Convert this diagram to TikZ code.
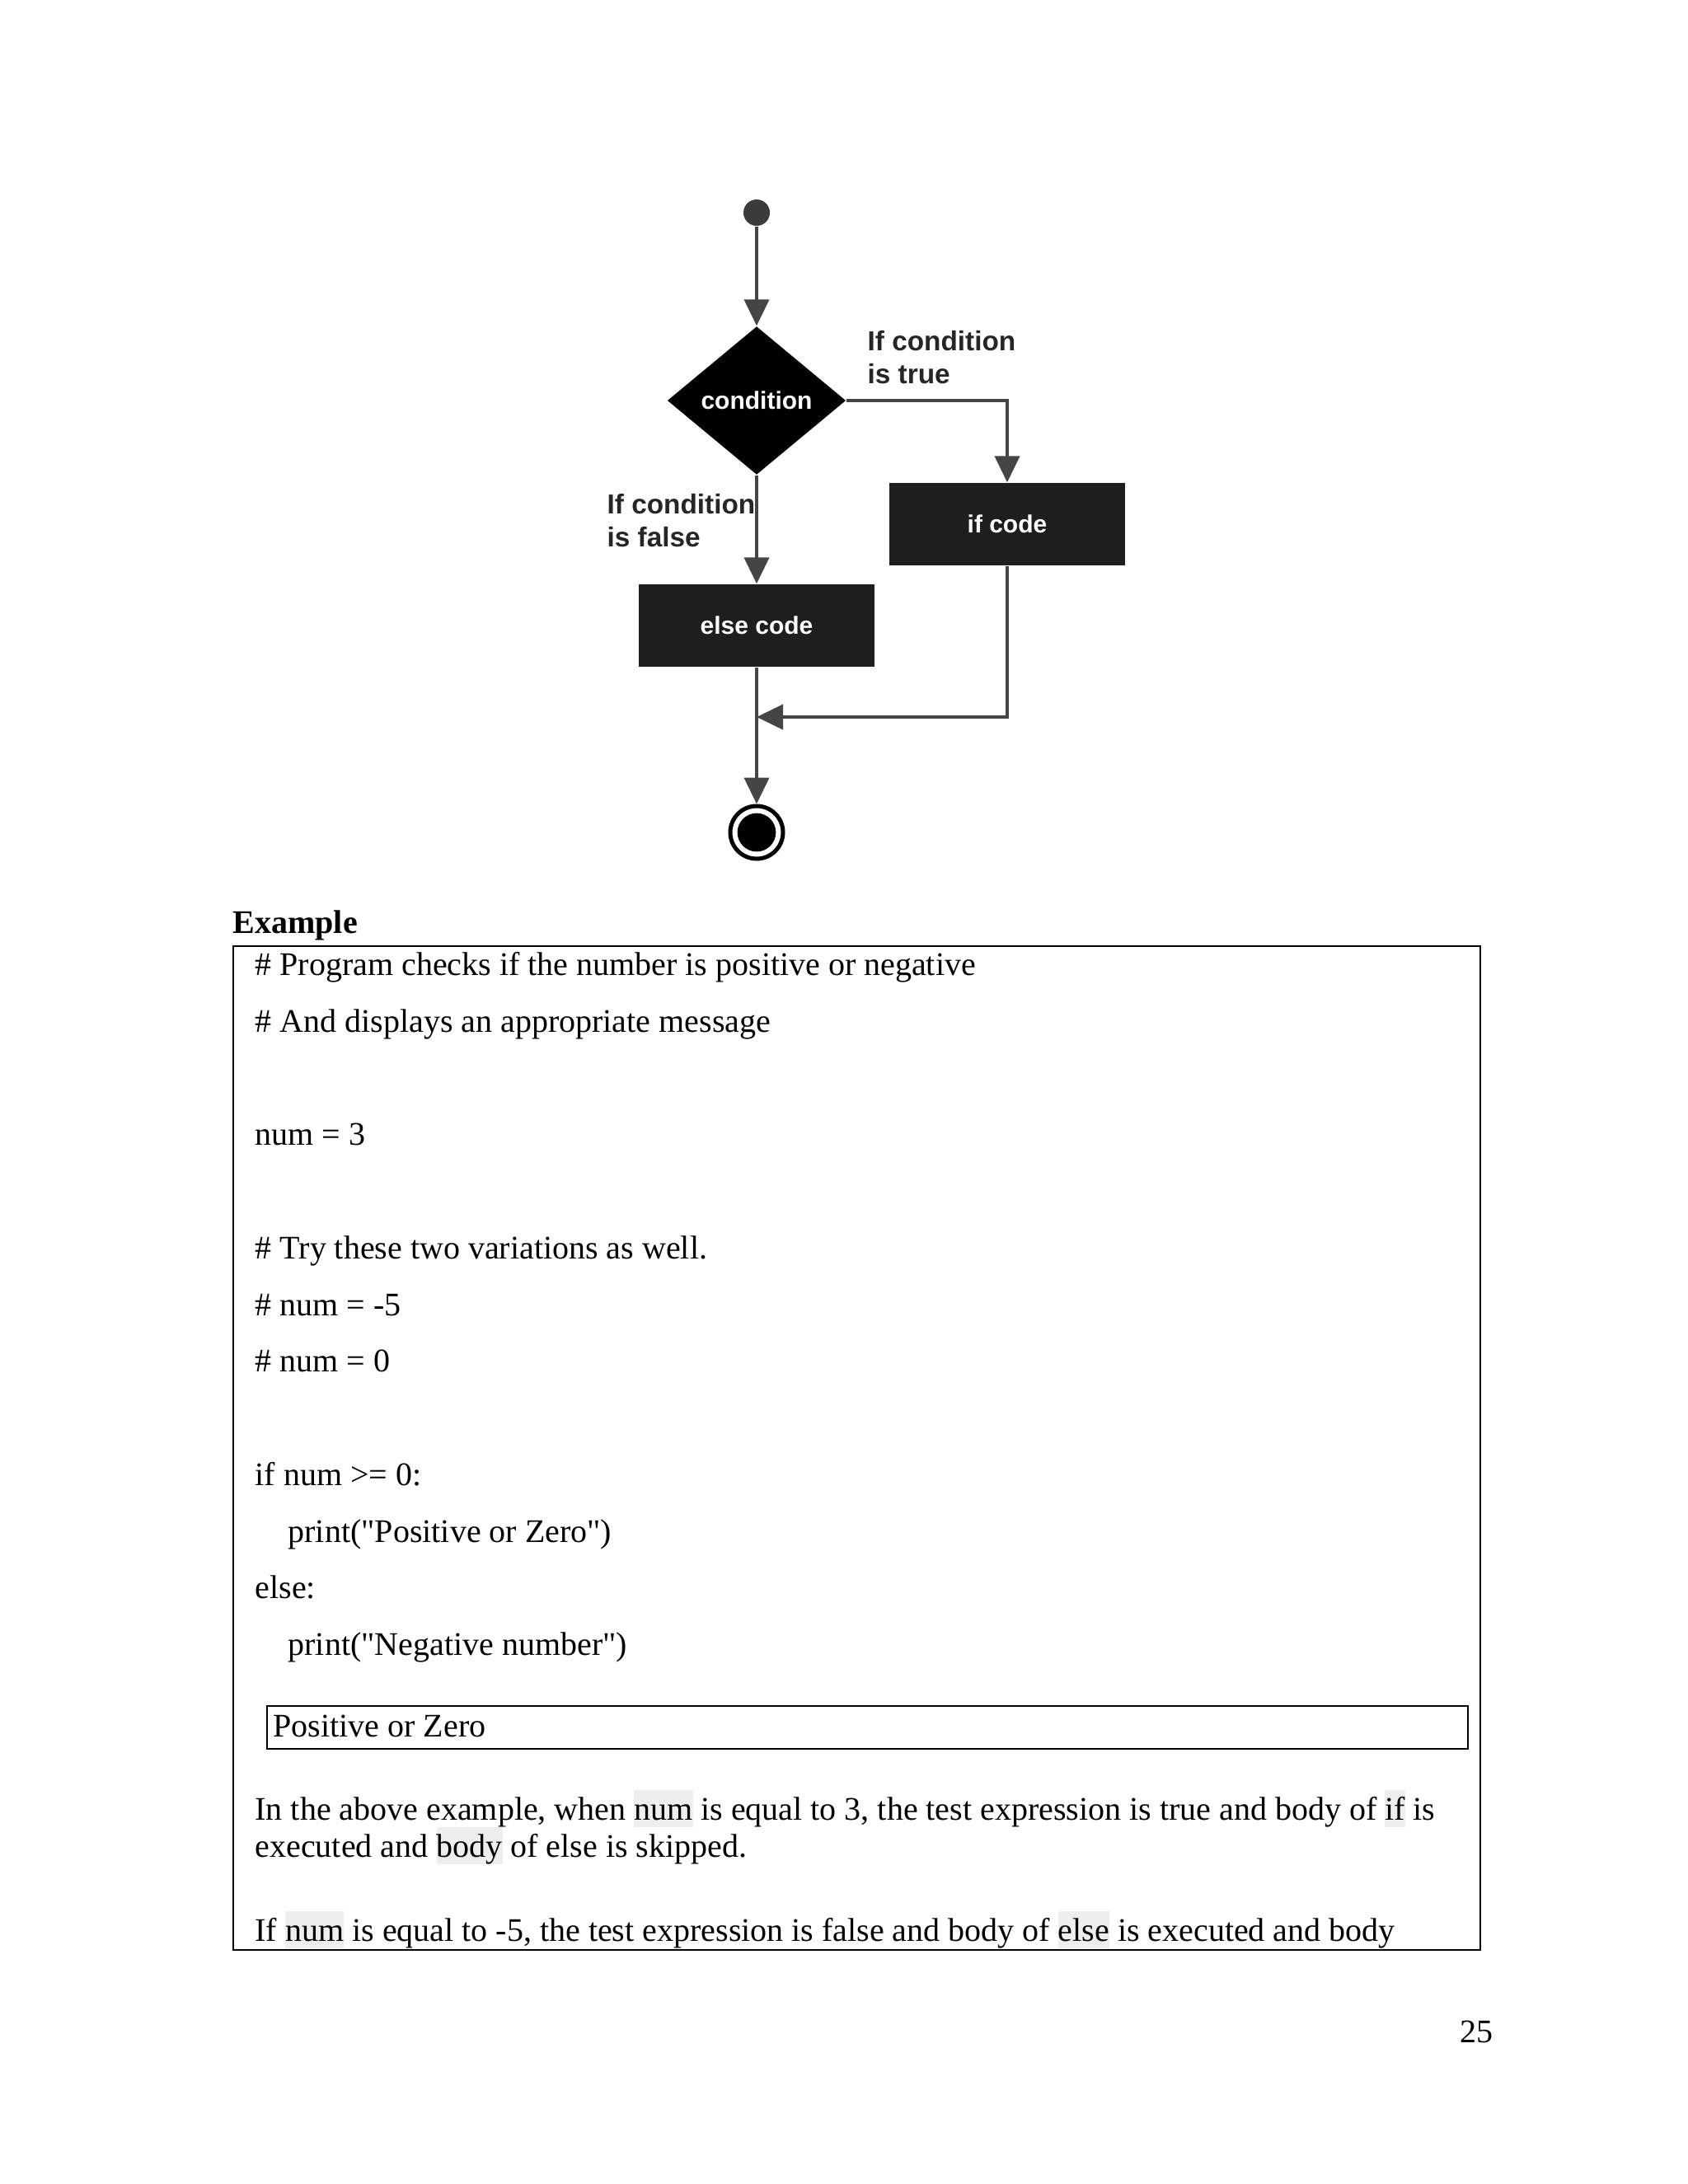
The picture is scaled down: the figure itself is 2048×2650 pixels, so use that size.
\documentclass[tikz,border=0pt]{standalone}
\usepackage{fontspec}
\setmainfont{Liberation Serif}
\newfontfamily\codefont{Liberation Serif}
\newfontfamily\flowfont{Liberation Sans}
\usepackage{xcolor}
\usetikzlibrary{shapes.geometric, positioning, arrows.meta}

\definecolor{flowline}{HTML}{454545}
\definecolor{boxfill}{HTML}{1E1E1E}
\definecolor{hlgray}{HTML}{EEEEEE}
\newcommand{\hlword}[1]{{\setlength{\fboxsep}{0pt}\colorbox{hlgray}{\vrule width 0pt height 10.8pt depth 2.7pt #1}}}

\begin{document}
\begin{tikzpicture}[
    x=0.3pt, y=-0.3pt,
    flow/.style={draw=flowline, line width=1.2pt, -{Triangle[width=9pt, length=9.6pt]}},
    process/.style={rectangle, fill=boxfill, minimum width=86pt, minimum height=30pt, text=white, font=\flowfont\bfseries\fontsize{9}{11}\selectfont},
    decision/.style={diamond, fill=black, inner sep=0pt, aspect=1.2, minimum width=65pt, minimum height=54pt, text=white, font=\flowfont\bfseries\fontsize{9}{11}\selectfont},
    startdot/.style={circle, fill=flowline!85!black, inner sep=0pt, minimum size=9.6pt},
    endring/.style={circle, draw=black, line width=1.5pt, inner sep=0pt, minimum size=19.2pt},
    enddot/.style={circle, fill=black, inner sep=0pt, minimum size=14pt},
    branch/.style={align=left, inner sep=0pt, text=black!85, font=\flowfont\bfseries\fontsize{10}{12}\selectfont},
    codeline/.style={anchor=base west, inner sep=0pt, font=\codefont\fontsize{12}{14}\selectfont},
    frame/.style={draw=black, line width=0.6pt}
]
    \useasboundingbox (0,0) rectangle (2048,2650);

    % ================= FLOWCHART =================
    \node[startdot] (START) at (918, 258) {};
    \node[decision] (COND) at (918, 486) {condition};
    \node[process] (IFCODE) at (1222, 636) {if code};
    \node[process] (ELSECODE) at (918, 759) {else code};
    \node[endring] (STOP) at (918, 1010) {};
    \node[enddot] (STOPDOT) at (STOP) {};
    \coordinate (JOIN) at (918, 870);

    % base anchor sits on the last line
    \node[branch, anchor=base west] (TRUELBL) at (1052, 465) {If condition\\is true};
    \node[branch, anchor=base west] (FALSELBL) at (736, 663) {If condition\\is false};

    \draw[flow] (START) -- (COND.north);
    \draw[flow] (COND.east) -| (IFCODE.north);
    \draw[flow] (COND.south) -- (ELSECODE.north);
    \draw[flow] (ELSECODE.south) -- (STOP.north);
    \draw[flow] (IFCODE.south) |- (JOIN);

    % ================= EXAMPLE BOX =================
    \node[codeline, font=\codefont\bfseries\fontsize{12}{14}\selectfont] (EXTITLE) at (282, 1132) {Example};
    \draw[frame] (283, 1148) rectangle (1796, 2366);

    \node[codeline] (L1) at (309, 1183) {\# Program checks if the number is positive or negative};
    \node[codeline] (L2) at (309, 1252) {\# And displays an appropriate message};
    \node[codeline] (L3) at (309, 1389) {num = 3};
    \node[codeline] (L4) at (309, 1527) {\# Try these two variations as well.};
    \node[codeline] (L5) at (309, 1596) {\# num = -5};
    \node[codeline] (L6) at (309, 1664) {\# num = 0};
    \node[codeline] (L7) at (309, 1802) {if num >= 0:};
    \node[codeline] (L8) at (349, 1871) {print("Positive or Zero")};
    \node[codeline] (L9) at (309, 1939) {else:};
    \node[codeline] (L10) at (349, 2008) {print("Negative number")};

    % output
    \draw[frame] (324, 2070) rectangle (1781, 2122);
    \node[codeline] (OUT) at (331, 2107) {Positive or Zero};

    % explanation
    \node[codeline] (P1) at (309, 2208) {In the above example, when \hlword{num} is equal to 3, the test expression is true and body of \hlword{if} is};
    \node[codeline] (P2) at (309, 2253) {executed and \hlword{body} of else is skipped.};
    \node[codeline] (P3) at (309, 2355) {If \hlword{num} is equal to -5, the test expression is false and body of \hlword{else} is executed and body};

    % page number
    \node[codeline, anchor=base east] (PAGENO) at (1812, 2478) {25};
\end{tikzpicture}
\end{document}
